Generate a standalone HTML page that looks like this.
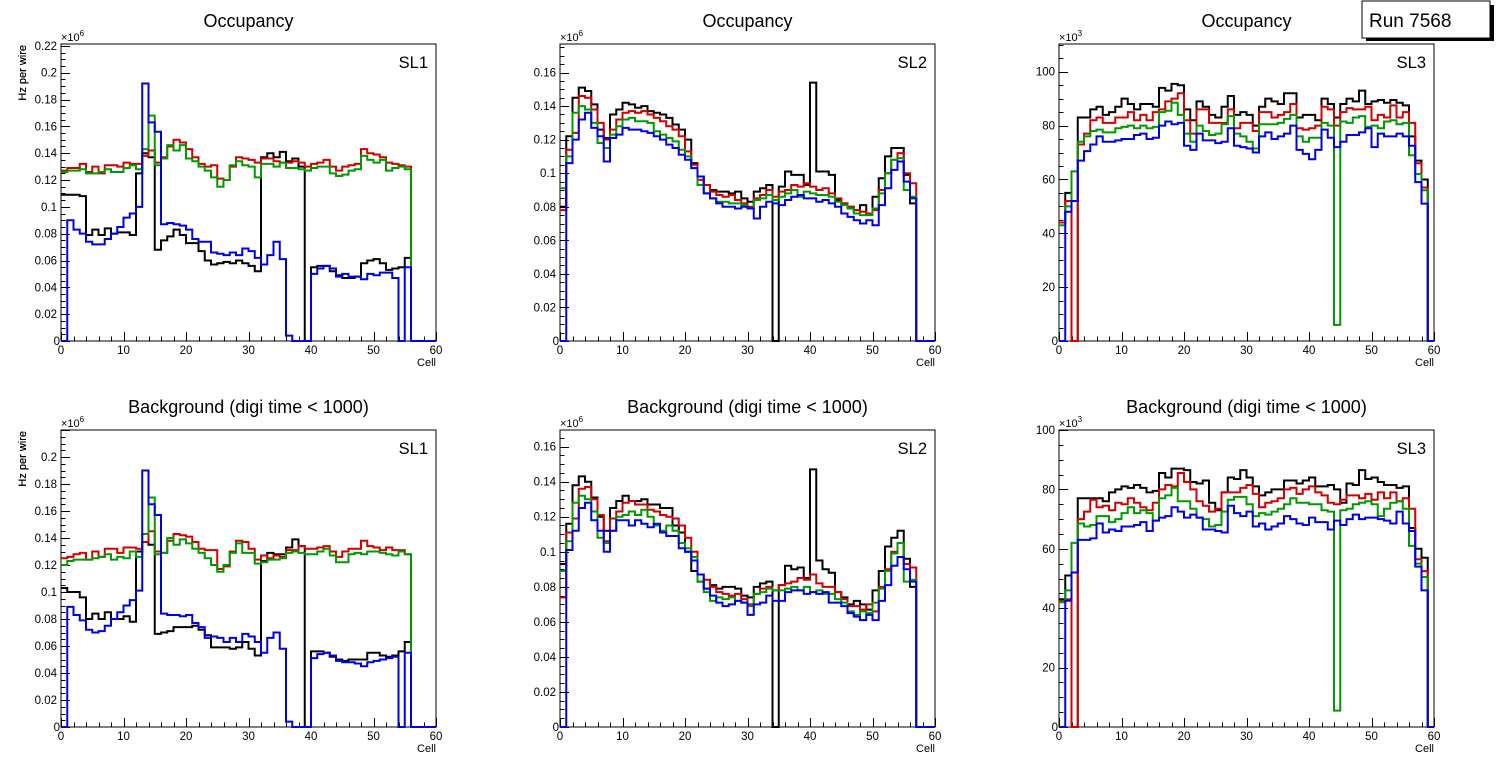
<!DOCTYPE html>
<html><head><meta charset="utf-8"><title>Run 7568 occupancy and background</title>
<style>
html,body{margin:0;padding:0;background:#fff;}
svg{display:block;font-family:"Liberation Sans",Arial,sans-serif;}
</style></head>
<body>
<svg id="root" width="1496" height="772" viewBox="0 0 1496 772" xmlns="http://www.w3.org/2000/svg">
  <g>
    <rect x="1366" y="5" width="128" height="36" fill="#000"/>
    <rect x="1362" y="1" width="128" height="37" fill="#fff" stroke="#000" stroke-width="1"/>
    <text x="1369" y="27" font-size="19" fill="#000">Run 7568</text>
  </g>
</svg>
<script>
// Cells
const cells = Array.from({length:60},(_,i)=>i);
// Panel 1: Occupancy SL1 (Hz per wire, x1e6)
const occSL1Black=[0.109,0.109,0.109,0.108,0.079,0.083,0.079,0.084,0.080,0.081,0.081,0.079,0.125,0.140,0.137,0.068,0.075,0.078,0.083,0.079,0.073,0.073,0.067,0.060,0.057,0.058,0.059,0.058,0.060,0.058,0.056,0.052,0.137,0.140,0.137,0.141,0.134,0.136,0.130,0,0.055,0.056,0.056,0.052,0.049,0.047,0.047,0.048,0.058,0.060,0.061,0.058,0.053,0.054,0.055,0.062,0,0,0,0];
const occSL1Red=[0.127,0.129,0.129,0.132,0.126,0.130,0.125,0.131,0.131,0.130,0.133,0.132,0.132,0.138,0.142,0.133,0.137,0.145,0.150,0.148,0.143,0.137,0.132,0.130,0.131,0.121,0.120,0.130,0.137,0.136,0.135,0.133,0.136,0.136,0.134,0.133,0.133,0.134,0.133,0.130,0.132,0.133,0.135,0.130,0.127,0.130,0.131,0.132,0.143,0.140,0.139,0.137,0.133,0.132,0.131,0.130,0,0,0,0];
const occSL1Green=[0.126,0.127,0.127,0.128,0.125,0.125,0.126,0.128,0.126,0.126,0.129,0.131,0.128,0.143,0.168,0.131,0.136,0.146,0.142,0.146,0.136,0.134,0.130,0.127,0.122,0.115,0.120,0.131,0.134,0.131,0.130,0.122,0.132,0.132,0.130,0.133,0.129,0.129,0.128,0.127,0.129,0.130,0.130,0.125,0.123,0.124,0.127,0.128,0.138,0.135,0.133,0.135,0.127,0.129,0.130,0.128,0,0,0,0];
const occSL1Blue=[0,0.090,0.083,0.080,0.074,0.072,0.072,0.076,0.080,0.085,0.092,0.095,0.100,0.192,0.163,0.156,0.087,0.088,0.087,0.086,0.083,0.076,0.074,0.074,0.066,0.065,0.064,0.066,0.064,0.069,0.067,0.062,0.057,0.064,0.074,0.061,0.004,0,0,0,0.050,0.054,0.056,0.054,0.048,0.050,0.048,0.048,0.046,0.050,0.049,0.051,0.051,0.047,0,0.055,0,0,0,0];
// Panel 2: Occupancy SL2
const occSL2Black=[0.080,0.122,0.145,0.151,0.149,0.141,0.126,0.121,0.135,0.138,0.142,0.141,0.139,0.140,0.137,0.136,0.135,0.133,0.129,0.126,0.120,0.106,0.098,0.093,0.090,0.089,0.089,0.088,0.089,0.085,0.083,0.089,0.091,0.093,0,0.092,0.101,0.099,0.099,0.093,0.154,0.101,0.101,0.099,0.084,0.082,0.080,0.078,0.081,0.076,0.086,0.097,0.110,0.115,0.115,0.099,0.082,0,0,0];
const occSL2Red=[0.078,0.114,0.124,0.146,0.145,0.138,0.130,0.120,0.126,0.132,0.136,0.137,0.136,0.137,0.135,0.133,0.131,0.128,0.126,0.122,0.113,0.105,0.096,0.093,0.089,0.087,0.086,0.087,0.084,0.082,0.080,0.085,0.087,0.090,0.086,0.089,0.090,0.093,0.092,0.094,0.092,0.090,0.091,0.088,0.085,0.082,0.080,0.078,0.077,0.076,0.078,0.090,0.100,0.108,0.112,0.100,0.094,0,0,0];
const occSL2Green=[0.091,0.110,0.136,0.140,0.138,0.130,0.118,0.115,0.123,0.128,0.132,0.133,0.131,0.131,0.130,0.125,0.123,0.121,0.119,0.114,0.110,0.103,0.093,0.088,0.085,0.083,0.083,0.082,0.082,0.081,0.079,0.084,0.085,0.087,0.084,0.086,0.088,0.090,0.086,0.089,0.088,0.087,0.087,0.086,0.083,0.081,0.079,0.076,0.075,0.075,0.079,0.088,0.100,0.108,0.109,0.090,0.086,0,0,0];
const occSL2Blue=[0,0.106,0.120,0.132,0.136,0.127,0.122,0.107,0.121,0.123,0.127,0.126,0.126,0.125,0.124,0.122,0.120,0.117,0.115,0.111,0.108,0.103,0.098,0.088,0.085,0.082,0.080,0.080,0.079,0.080,0.079,0.073,0.080,0.083,0.082,0.081,0.084,0.086,0.087,0.085,0.085,0.083,0.084,0.082,0.080,0.076,0.074,0.072,0.070,0.072,0.069,0.081,0.091,0.102,0.107,0.095,0.085,0,0,0];
// Panel 3: Occupancy SL3 (x1e3)
const occSL3Black=[44,55,0,83,83,86,87,84,85,87,90,88,86,88,88,87,94,93,95.5,95,86,82,89,87,84,83,87,91,84,85,84,80,87,90,89,88,92,92,83,84,84,82,90,88,83,88,90,89,93,88,89,89.5,88.5,89.5,88.5,87.5,76,67,60,0];
const occSL3Red=[44,52,0,73,77,82,83,81,81,83,83,85,82,84,82,85,86,89,90,92,82,77,86,86,81,81,81,86,79,81,81,78,85,85,83,84,85,88,79,78.5,79,80,87,86,80,85,86.5,86,86,87,82,84,83,87.5,83,85,81,66,57,0];
const occSL3Green=[43,50,63,74,76,78,78.5,77.5,77.5,79,79.5,80,79,80,79,79.5,85,85.5,88.5,84,77,74,80,78,76.5,77,80.5,83.5,77,76,74,71.5,80.5,80.5,80.5,81,82.5,84,76,74,75.5,75.5,81,80,6,81.5,81,83,83.5,79.5,80,79,81.5,82,80.5,81,69,62,56,0];
const occSL3Blue=[0,48,52,67,70.5,73,76,74,74,74.5,75,75,76.5,77,75,75.5,80,81.5,80.5,81,72.5,71,77,74.5,74.5,73.5,74,79,72.5,72,71.5,70,76,77.5,75,76,77,80,71,69.5,67.5,71,78.5,75.5,72,74,76.5,76.5,77.5,79,72,77,76,76,77,76,72.5,59,51,0];
// Panel 4: Background SL1
const bkgSL1Black=[0.103,0.100,0.100,0.096,0.080,0.084,0.080,0.085,0.080,0.080,0.082,0.078,0.130,0.137,0.135,0.069,0.070,0.071,0.074,0.074,0.074,0.075,0.072,0.068,0.059,0.059,0.059,0.058,0.059,0.063,0.058,0.053,0.123,0.129,0.128,0.128,0.133,0.139,0.134,0,0.056,0.056,0.055,0.052,0.050,0.049,0.050,0.050,0.050,0.055,0.055,0.053,0.052,0.053,0.056,0.063,0,0,0,0];
const bkgSL1Red=[0.125,0.126,0.128,0.129,0.124,0.130,0.126,0.132,0.132,0.129,0.133,0.133,0.132,0.137,0.145,0.130,0.129,0.138,0.143,0.142,0.141,0.137,0.132,0.131,0.131,0.117,0.119,0.130,0.138,0.137,0.132,0.124,0.127,0.125,0.127,0.126,0.131,0.131,0.134,0.132,0.132,0.133,0.134,0.130,0.126,0.130,0.132,0.132,0.138,0.134,0.133,0.131,0.133,0.131,0.131,0.128,0,0,0,0];
const bkgSL1Green=[0.120,0.123,0.124,0.124,0.124,0.125,0.126,0.128,0.124,0.126,0.125,0.130,0.126,0.143,0.170,0.128,0.129,0.140,0.135,0.139,0.136,0.132,0.129,0.125,0.120,0.115,0.120,0.129,0.136,0.129,0.129,0.121,0.122,0.124,0.124,0.125,0.129,0.130,0.129,0.128,0.128,0.130,0.132,0.127,0.122,0.122,0.128,0.129,0.128,0.130,0.130,0.129,0.128,0.127,0.130,0.128,0,0,0,0];
const bkgSL1Blue=[0,0.089,0.083,0.079,0.072,0.070,0.071,0.075,0.080,0.085,0.090,0.094,0.101,0.190,0.165,0.157,0.084,0.083,0.083,0.082,0.083,0.077,0.074,0.066,0.067,0.066,0.063,0.066,0.063,0.069,0.067,0.063,0.055,0.066,0.070,0.058,0.004,0,0,0,0.051,0.054,0.055,0.053,0.049,0.048,0.048,0.047,0.045,0.048,0.049,0.050,0.051,0.052,0,0.055,0,0,0,0];
// Panel 5: Background SL2
const bkgSL2Black=[0.093,0.116,0.138,0.143,0.140,0.131,0.120,0.112,0.125,0.129,0.132,0.129,0.129,0.130,0.127,0.127,0.125,0.125,0.115,0.111,0.100,0.089,0.083,0.079,0.081,0.079,0.080,0.080,0.079,0.075,0.074,0.080,0.082,0.083,0,0.081,0.092,0.090,0.091,0.085,0.147,0.095,0.090,0.088,0.077,0.074,0.070,0.072,0.070,0.067,0.078,0.089,0.103,0.108,0.112,0.096,0.080,0,0,0];
const bkgSL2Red=[0.074,0.111,0.119,0.136,0.137,0.130,0.121,0.106,0.119,0.123,0.128,0.129,0.127,0.127,0.124,0.123,0.121,0.120,0.119,0.115,0.108,0.100,0.087,0.084,0.080,0.077,0.076,0.075,0.076,0.073,0.070,0.076,0.079,0.080,0.078,0.081,0.082,0.083,0.085,0.084,0.087,0.082,0.080,0.080,0.077,0.073,0.069,0.069,0.067,0.070,0.066,0.080,0.090,0.100,0.105,0.093,0.091,0,0,0];
const bkgSL2Green=[0.089,0.106,0.128,0.132,0.130,0.123,0.108,0.105,0.112,0.120,0.121,0.123,0.121,0.124,0.120,0.115,0.112,0.115,0.112,0.105,0.102,0.097,0.083,0.077,0.072,0.074,0.073,0.074,0.072,0.071,0.069,0.076,0.077,0.079,0.078,0.078,0.079,0.080,0.078,0.080,0.077,0.078,0.076,0.076,0.073,0.071,0.066,0.064,0.066,0.065,0.071,0.079,0.089,0.099,0.105,0.083,0.084,0,0,0];
const bkgSL2Blue=[0,0.101,0.112,0.125,0.128,0.118,0.112,0.100,0.112,0.118,0.118,0.115,0.118,0.116,0.114,0.116,0.111,0.109,0.109,0.102,0.100,0.095,0.087,0.079,0.075,0.071,0.069,0.070,0.072,0.071,0.064,0.070,0.071,0.075,0.072,0.072,0.077,0.078,0.078,0.076,0.077,0.076,0.077,0.071,0.071,0.069,0.065,0.063,0.061,0.064,0.061,0.072,0.081,0.092,0.097,0.090,0.083,0,0,0];
// Panel 6: Background SL3 (x1e3)
const bkgSL3Black=[43,51,0,77,77,77,77,76,79,80,81,80.5,81.5,80.5,79,79.5,85.5,84,87,87,86.5,82.5,82,83,75.5,73,79,84,83.5,86.5,84,81,78,79,80,80,83,83,82,83,84,81,81,81.5,80,75.5,82,81.5,86.5,83.5,84,82.5,81.5,81.5,80.5,81,67,60,57,0];
const bkgSL3Red=[42.5,43,0,70,72.5,76.5,74,74.5,73,75.5,75,77,75.5,74,73,75.5,80,81.5,81,85.5,82.5,80,76,74.5,72.5,73.5,79,79,79,80.5,81.5,78.5,74,75.5,76,77,80,80.5,78.5,80,81,79,78,75.5,75,76.5,78,78,77,78.5,76.5,79,77,79,76,77,73.5,56.5,52.5,0];
const bkgSL3Green=[42,46,62,68.5,67.5,68,71,71,69,70,72,74,72,73,72,69.5,77,78,80.5,76,76,73.5,70.5,70,67.5,68,72.5,76.5,77.5,77.5,75,71,72,71.5,72.5,73.5,75,77,75.5,75.5,75,75,73,72.5,5.5,73,73.5,75,75.5,76,75,71,73.5,75.5,76,73.5,61,55,50.5,0];
const bkgSL3Blue=[0,42.5,52,63,63,63.5,68.5,65.5,66.5,66,67.5,67.5,68,69,66,69.5,70.5,71,74,72.5,70.5,71.5,70.5,66.5,66.5,66,65.5,74.5,72,71,72.5,67.5,68.5,66.5,67.5,68.5,71,70,68.5,68,70.5,69,69,66.5,69.5,68,70,71.5,70,70.5,70.5,70,69.5,68.5,72.5,68.5,66,54,46,0];

const NS='http://www.w3.org/2000/svg';
const root=document.getElementById('root');
const COLORS=['#000000','#d40000','#009a00','#0000e6'];
const SERIES_NAMES=['black','red','green','blue'];

function mk(tag,attrs,parent){const e=document.createElementNS(NS,tag);for(const k in attrs)e.setAttribute(k,attrs[k]);(parent||root).appendChild(e);return e;}

const panels=[
 {id:'occupancy-sl1',title:'Occupancy',sl:'SL1',x0:61,x1:436,yt:44,yb:341,ymax:0.2214,step:0.02,nmax:0.22,minor:4,dec:2,exp:'6',series:[occSL1Black,occSL1Red,occSL1Green,occSL1Blue]},
 {id:'occupancy-sl2',title:'Occupancy',sl:'SL2',x0:560,x1:935,yt:44,yb:341,ymax:0.177,step:0.02,nmax:0.16,minor:4,dec:2,exp:'6',series:[occSL2Black,occSL2Red,occSL2Green,occSL2Blue]},
 {id:'occupancy-sl3',title:'Occupancy',sl:'SL3',x0:1059,x1:1434,yt:44,yb:341,ymax:110.3,step:20,nmax:100,minor:4,dec:0,exp:'3',series:[occSL3Black,occSL3Red,occSL3Green,occSL3Blue]},
 {id:'background-sl1',title:'Background (digi time < 1000)',sl:'SL1',x0:61,x1:436,yt:430,yb:727,ymax:0.22,step:0.02,nmax:0.2,minor:4,dec:2,exp:'6',series:[bkgSL1Black,bkgSL1Red,bkgSL1Green,bkgSL1Blue]},
 {id:'background-sl2',title:'Background (digi time < 1000)',sl:'SL2',x0:560,x1:935,yt:430,yb:727,ymax:0.1695,step:0.02,nmax:0.16,minor:4,dec:2,exp:'6',series:[bkgSL2Black,bkgSL2Red,bkgSL2Green,bkgSL2Blue]},
 {id:'background-sl3',title:'Background (digi time < 1000)',sl:'SL3',x0:1059,x1:1434,yt:430,yb:727,ymax:100,step:20,nmax:100,minor:4,dec:0,exp:'3',series:[bkgSL3Black,bkgSL3Red,bkgSL3Green,bkgSL3Blue]}
];

panels.forEach(p=>{
  const g=mk('g',{});
  
  
  const xs=v=>p.x0+(p.x1-p.x0)*v/60;
  const ys=v=>p.yb-(p.yb-p.yt)*v/p.ymax;
  const cx=(p.x0+p.x1)/2;
  const t=mk('text',{x:cx,y:p.yt-17,'font-size':18,'text-anchor':'middle'},g);
  t.textContent=p.title;
  
  
  // frame
  const fr=mk('rect',{x:p.x0,y:p.yt,width:p.x1-p.x0,height:p.yb-p.yt,fill:'none',stroke:'#000','stroke-width':1},g);
  
  
  // x ticks
  const xt=mk('g',{stroke:'#000','stroke-width':1},g);
  
  
  for(let v=0;v<=60;v+=2){const X=Math.round(xs(v))+0.5;const L=(v%10===0)?9:4.5;mk('line',{x1:X,y1:p.yb,x2:X,y2:p.yb-L},xt);}
  for(let v=0;v<=60;v+=10){const lb=mk('text',{x:xs(v),y:p.yb+13,'font-size':11.5,'text-anchor':'middle'},g);lb.textContent=String(v);
    
    }
  const xl=mk('text',{x:p.x1,y:p.yb+25,'font-size':11,'text-anchor':'end'},g);xl.textContent='Cell';
  
  
  // y ticks
  const yt=mk('g',{stroke:'#000','stroke-width':1},g);
  
  
  const ms=p.step/p.minor;
  for(let k=0;k*ms<=p.ymax+1e-9;k++){const v=k*ms;const Y=Math.round(ys(v))+0.5;const L=(k%p.minor===0)?9:4.5;mk('line',{x1:p.x0,y1:Y,x2:p.x0+L,y2:Y},yt);}
  for(let k=0;k*p.step<=p.nmax+1e-9;k++){const v=k*p.step;const s=v===0?'0':String(parseFloat(v.toFixed(p.dec)));
    const lb=mk('text',{x:p.x0-(v===0?1:4),y:ys(v)+4,'font-size':11.5,'text-anchor':'end'},g);lb.textContent=s;
    
    }
  const ex=mk('text',{x:p.x0,y:p.yt-3,'font-size':11},g);
  
  
  ex.appendChild(document.createTextNode('\u00d710'));
  const sup=mk('tspan',{'font-size':8,dy:-5},ex);sup.textContent=p.exp;
  const yl=mk('text',{x:0,y:0,'font-size':11,'text-anchor':'end',transform:`translate(26,${p.yt+1}) rotate(-90)`},g);
  yl.textContent='Hz per wire';
  
  
  const sl=mk('text',{x:p.x1-8,y:p.yt+24,'font-size':16.5,'text-anchor':'end'},g);sl.textContent=p.sl;
  
  
  // series
  p.series.forEach((vals,si)=>{
    let d='M'+xs(0).toFixed(2)+','+ys(vals[0]).toFixed(2);
    for(let i=0;i<cells.length;i++){
      if(i>0)d+=' V'+ys(vals[i]).toFixed(2);
      d+=' H'+xs(cells[i]+1).toFixed(2);
    }
    const path=mk('path',{d:d,fill:'none',stroke:COLORS[si],'stroke-width':2,'stroke-linejoin':'miter'},g);
    
    
  });
});
</script>
</body></html>
